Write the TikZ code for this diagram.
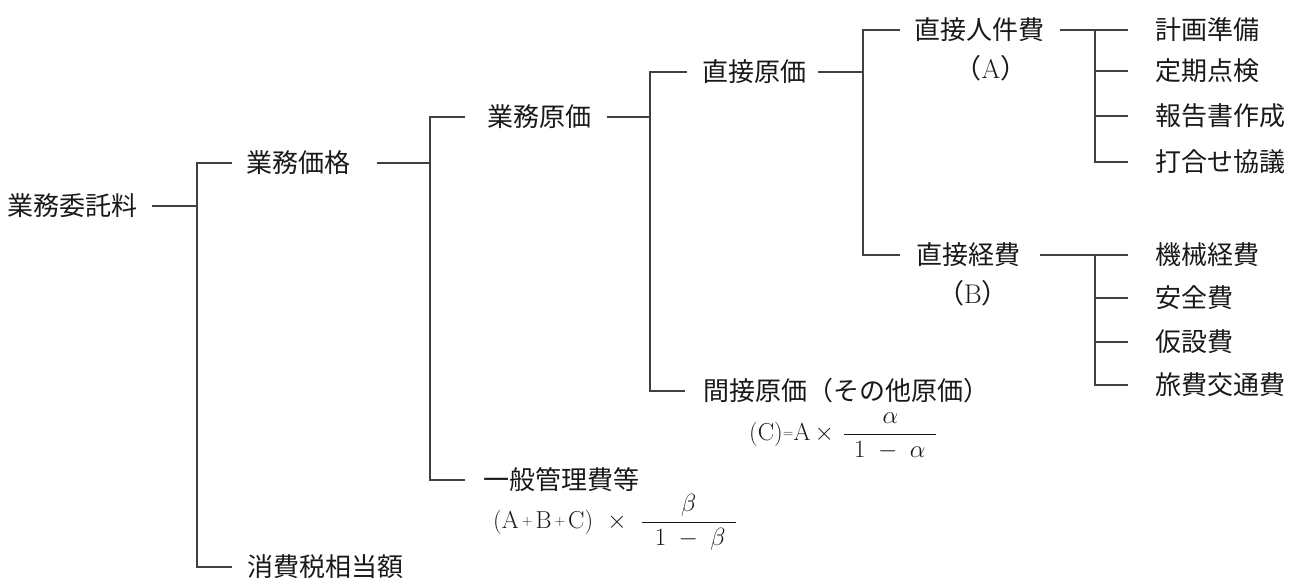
\documentclass[tikz,border=0pt]{standalone}
\usepackage{fontspec}
\newfontfamily\jp{Noto Sans CJK JP}
\newcommand\smop[1]{\raisebox{2.6pt}{\fontsize{14}{14}\selectfont #1}}
\begin{document}
\begin{tikzpicture}[x=1pt,y=-1pt,
  jlbl/.style={anchor=west, inner sep=0pt, font=\jp\fontsize{26}{26}\selectfont, text=black!90},
  plbl/.style={inner sep=0pt, font=\fontsize{27}{27}\selectfont, text=black!90},
  fml/.style={anchor=base west, inner sep=0pt, font=\fontsize{24.5}{24.5}\selectfont, text=black!90},
  ln/.style={line width=1.2pt, draw=black!75}]
\useasboundingbox (0,0) rectangle (1291,581);

% --- text nodes ---
\node[jlbl] (root) at (7,206) {業務委託料};
\node[jlbl] (kakaku) at (246,163) {業務価格};
\node[jlbl] (shohi) at (247,567) {消費税相当額};
\node[jlbl] (genka) at (487,117) {業務原価};
\node[jlbl] (ippan) at (483,480) {一般管理費等};
\node[jlbl] (chokusetsu) at (702,72) {直接原価};
\node[jlbl] (kansetsu) at (703,391) {間接原価（その他原価）};
\node[jlbl] (jinken) at (914,30) {直接人件費};
\node[plbl] (A) at (991,68) {{\jp（}A{\jp）}};
\node[jlbl] (keihi) at (916,255) {直接経費};
\node[plbl] (B) at (973,293) {{\jp（}B{\jp）}};

\node[jlbl] (l1) at (1155,30) {計画準備};
\node[jlbl] (l2) at (1155,71) {定期点検};
\node[jlbl] (l3) at (1155,116) {報告書作成};
\node[jlbl] (l4) at (1155,162) {打合せ協議};
\node[jlbl] (m1) at (1155,255) {機械経費};
\node[jlbl] (m2) at (1155,298) {安全費};
\node[jlbl] (m3) at (1155,342) {仮設費};
\node[jlbl] (m4) at (1155,385) {旅費交通費};

\node[fml] (fc) at (749,440) {(C)\smop{=}A\,$\times$\hspace{9pt}$\displaystyle\frac{\alpha}{\hspace{10pt}1\;-\;\alpha\hspace{11pt}}$};
\node[fml] (fb) at (493,528) {(A\hspace{3pt}\smop{+}\hspace{3pt}B\hspace{3pt}\smop{+}\hspace{3pt}C)\hspace{14pt}$\times$\hspace{14pt}$\displaystyle\frac{\beta}{\hspace{13pt}1\;-\;\beta\hspace{10pt}}$};

% --- junctions ---
\coordinate (j0) at (197,206);
\coordinate (j1) at (430,163);
\coordinate (j2) at (650,117);
\coordinate (j3) at (863,72);
\coordinate (j4) at (1095,30);
\coordinate (j5) at (1095,255);

% --- connectors ---
\draw[ln] ([xshift=15pt]root.east) -- (j0);
\draw[ln] ([xshift=-14pt]kakaku.west) -| (j0) |- ([xshift=-15pt]shohi.west);

\draw[ln] ([xshift=27pt]kakaku.east) -- (j1);
\draw[ln] ([xshift=-22pt]genka.west) -| (j1) |- ([xshift=-18pt]ippan.west);

\draw[ln] ([xshift=16pt]genka.east) -- (j2);
\draw[ln] ([xshift=-15pt]chokusetsu.west) -| (j2) |- ([xshift=-18pt]kansetsu.west);

\draw[ln] ([xshift=12pt]chokusetsu.east) -- (j3);
\draw[ln] ([xshift=-14pt]jinken.west) -| (j3) |- ([xshift=-16pt]keihi.west);

\draw[ln] ([xshift=16pt]jinken.east) -- ([xshift=-27pt]l1.west);
\draw[ln] (j4) |- ([xshift=-27pt]l4.west);
\draw[ln] ([xshift=-27pt]l2.west) -- (l2.west -| j4);
\draw[ln] ([xshift=-27pt]l3.west) -- (l3.west -| j4);

\draw[ln] ([xshift=20pt]keihi.east) -- ([xshift=-27pt]m1.west);
\draw[ln] (j5) |- ([xshift=-27pt]m4.west);
\draw[ln] ([xshift=-27pt]m2.west) -- (m2.west -| j5);
\draw[ln] ([xshift=-27pt]m3.west) -- (m3.west -| j5);
\end{tikzpicture}
\end{document}
